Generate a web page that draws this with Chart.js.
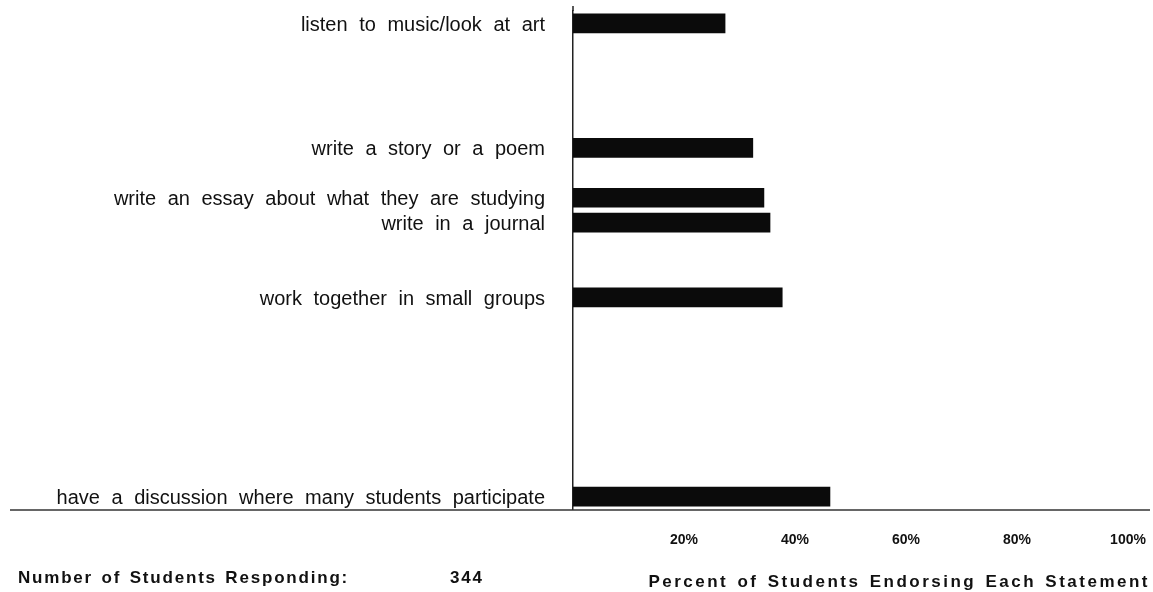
<!DOCTYPE html>
<html>
<head>
<meta charset="utf-8">
<script src="https://cdn.jsdelivr.net/npm/chart.js@4.4.1/dist/chart.umd.min.js"></script>
<style>
  body { margin: 0; background: #fff; }
  #wrap { width: 1153px; height: 592px; }
</style>
</head>
<body>
<div id="wrap"><canvas id="grafica" width="1153" height="592"></canvas></div>
<script>
// rows of the original chart, blank rows are the gaps between statements
const categories = [
  'listen to music/look at art', '', '', '', '',
  'write a story or a poem', '',
  'write an essay about what they are studying',
  'write in a journal', '', '',
  'work together in small groups', '', '', '', '', '', '', '',
  'have a discussion where many students participate'
];
const percents = [
  27.4, null, null, null, null,
  32.4, null,
  34.4,
  35.5, null, null,
  37.7, null, null, null, null, null, null, null,
  46.3
];
const xTicks = [20, 40, 60, 80, 100];
const respondLabel = 'Number of Students Responding:';
const respondents = 344;
const axisTitle = 'Percent of Students Endorsing Each Statement';

const fuente = '"Liberation Sans", Arial, Helvetica, sans-serif';

const extras = {
  id: 'extras',
  beforeDraw(chart) {
    chart.ctx.wordSpacing = '6px';
  },
  afterDraw(chart) {
    const ctx = chart.ctx;
    const area = chart.chartArea;
    ctx.save();
    // axis line reaches a bit above the first bar
    ctx.strokeStyle = '#222';
    ctx.lineWidth = 1.5;
    ctx.beginPath();
    ctx.moveTo(area.left, 6);
    ctx.lineTo(area.left, area.top);
    ctx.stroke();
    // long base line under the last statement
    ctx.strokeStyle = '#333';
    ctx.beginPath();
    ctx.moveTo(10, area.bottom + 1);
    ctx.lineTo(1150, area.bottom + 1);
    ctx.stroke();

    ctx.fillStyle = '#111';
    ctx.textBaseline = 'alphabetic';
    ctx.font = 'bold 17px ' + fuente;
    ctx.letterSpacing = '1.8px';
    ctx.wordSpacing = '2px';
    ctx.textAlign = 'left';
    ctx.fillText(respondLabel, 18, 583);
    ctx.fillText(String(respondents), 450, 583);
    ctx.letterSpacing = '2.5px';
    ctx.textAlign = 'right';
    ctx.fillText(axisTitle, 1150, 587);
    ctx.restore();
  }
};

const ctx = document.getElementById('grafica');
new Chart(ctx, {
  type: 'bar',
  data: {
    labels: categories,
    datasets: [{
      data: percents,
      backgroundColor: '#0b0b0b',
      borderWidth: 0,
      barThickness: 19
    }]
  },
  options: {
    indexAxis: 'y',
    responsive: false,
    animation: false,
    layout: { padding: { top: 11, right: 25, left: 0, bottom: 0 } },
    plugins: {
      legend: { display: false },
      tooltip: { enabled: false }
    },
    scales: {
      x: {
        min: 0,
        max: 100,
        afterBuildTicks: function(scale) {
          scale.ticks = xTicks.map(v => ({ value: v }));
        },
        afterFit: function(scale) {
          scale.height = 83;
          scale.paddingLeft = 0;
          scale.paddingRight = 0;
        },
        grid: { display: false, drawTicks: false },
        border: { display: false },
        ticks: {
          padding: 23,
          color: '#111',
          maxRotation: 0,
          font: { family: fuente, size: 14, weight: 'bold' },
          callback: function(value) {
            return value + '%';
          }
        }
      },
      y: {
        afterFit: function(scale) {
          scale.width = 573;
          scale.paddingTop = 0;
          scale.paddingBottom = 0;
        },
        grid: { display: false, drawTicks: false },
        border: { display: true, color: '#222', width: 1.5 },
        ticks: {
          padding: 28,
          labelOffset: 2,
          autoSkip: false,
          color: '#111',
          font: { family: fuente, size: 20 }
        }
      }
    }
  },
  plugins: [extras]
});
</script>
</body>
</html>
